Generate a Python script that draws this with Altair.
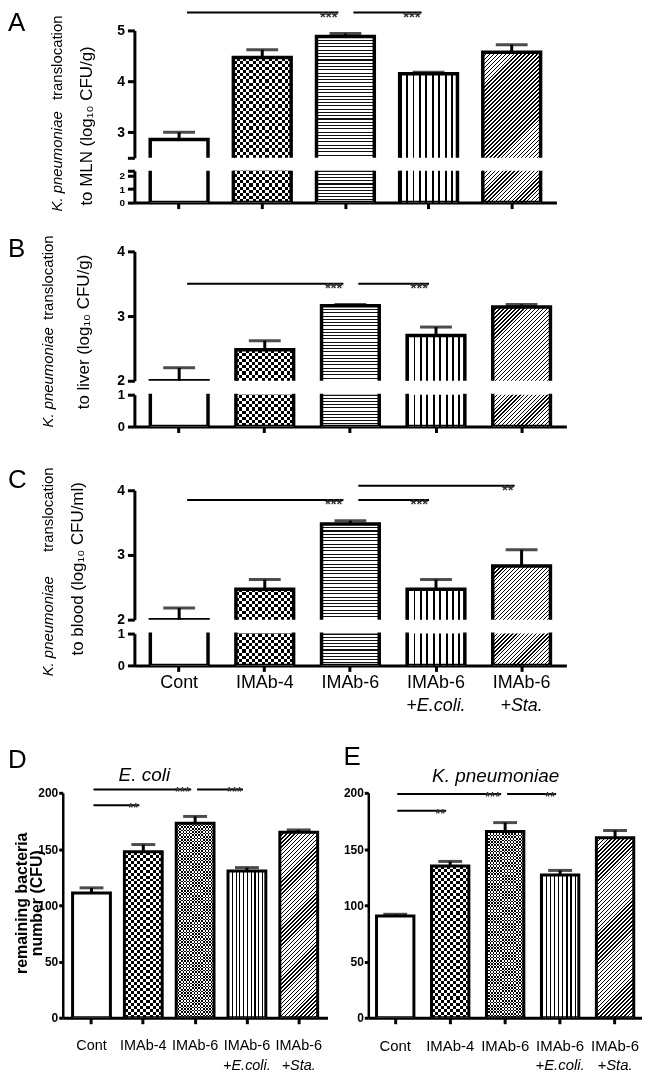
import math
import altair as alt
import pandas as pd

FONT = "Liberation Sans"

# ---------------- data ----------------
groups = ["Cont", "IMAb-4", "IMAb-6", "IMAb-6 +E.coli.", "IMAb-6 +Sta."]
label_line2 = ["", "", "", "+E.coli.", "+Sta."]

mln_mean = [2.86, 4.47, 4.88, 4.15, 4.57]
mln_upper = [3.00, 4.62, 4.94, 4.18, 4.72]
liver_mean = [2.00, 2.48, 3.16, 2.70, 3.14]
liver_upper = [2.20, 2.62, 3.18, 2.83, 3.18]
blood_mean = [2.00, 2.47, 3.48, 2.47, 2.83]
blood_upper = [2.18, 2.62, 3.53, 2.62, 3.08]
ecoli_mean = [111, 147.5, 173, 130.5, 165]
ecoli_upper = [115.5, 154, 179, 133.5, 167]
kp_mean = [90.5, 135, 165.5, 127, 160]
kp_upper = [92, 139, 173.5, 131, 166.5]

sig_mln = [["Cont", "IMAb-6", 5.35, "***"], ["IMAb-6", "IMAb-6 +E.coli.", 5.35, "***"]]
sig_liver = [["Cont", "IMAb-6", 3.5, "***"], ["IMAb-6", "IMAb-6 +E.coli.", 3.5, "***"]]
sig_blood = [["Cont", "IMAb-6", 3.85, "***"], ["IMAb-6", "IMAb-6 +E.coli.", 3.85, "***"],
             ["IMAb-6", "IMAb-6 +Sta.", 4.07, "**"]]
sig_ecoli = [["Cont", "IMAb-6", 203, "***"], ["IMAb-6", "IMAb-6 +E.coli.", 203, "***"],
             ["Cont", "IMAb-4", 189, "**"]]
sig_kp = [["Cont", "IMAb-6", 199, "***"], ["IMAb-6", "IMAb-6 +E.coli.", 199, "**"],
          ["Cont", "IMAb-4", 184, "**"]]

patterns_top = [("white", 0), ("checker", 6.5), ("hstripe", 3.3), ("vstripe", 6.3), ("diag", 2.8)]
patterns_bottom = [("white", 0), ("checker", 6.0), ("checker", 3.2), ("vstripe", 4.0), ("diag", 2.8)]

ONE = pd.DataFrame({"k": [0]})


# ---------------- helpers ----------------
def gstop(c, o):
    return alt.GradientStop(color=c, offset=round(min(max(o, 0.0), 1.0), 5))


def stripe_gradient(n, duty, on, off, x2, y2):
    n = max(int(round(n)), 1)
    stops = []
    for i in range(n):
        a, b, c = i / n, (i + duty) / n, (i + 1) / n
        stops += [gstop(on, a), gstop(on, b), gstop(off, b), gstop(off, c)]
    return alt.LinearGradient(gradient="linear", stops=stops, x1=0, y1=0, x2=x2, y2=y2)


def fills(kind, w, h, period):
    """Return a list of (fill, blend) pairs that draw the bar pattern."""
    if kind == "white":
        return [("white", None)]
    if kind == "checker":
        return [(stripe_gradient(h / period, 0.5, "black", "white", 0, 1), None),
                (stripe_gradient(w / period, 0.5, "white", "black", 1, 0), "difference")]
    if kind == "hstripe":
        return [(stripe_gradient(h / period, 0.32, "#111", "white", 0, 1), None)]
    if kind == "vstripe":
        return [(stripe_gradient(w / period, 0.3, "black", "white", 1, 0), None)]
    r = h / w
    c = (1 + r) / (1 + r * r)
    n = (w + h) / (math.sqrt(2) * period)
    return [(stripe_gradient(n, 0.35, "black", "white", c, c * r), None)]


def txt(text, x, y, size, align="center", baseline="alphabetic", angle=0,
        style="normal", weight="normal", color="black"):
    kw = dict(text=text, fontSize=size, align=align, baseline=baseline, font=FONT,
              fontStyle=style, fontWeight=weight, color=color)
    if angle:
        kw["angle"] = angle
    return alt.Chart(ONE).mark_text(**kw).encode(x=alt.value(x), y=alt.value(y))


def panel(mean, upper, *, width, xr, pi, po, dom, ch, pad, yvals, yhide=None,
          ylabel_size=14, ytick=7, ylabpad=3, ydomw=3, xaxis_mode="none",
          xlabel_size=18, xlabpad=2, xtick=6, kinds=patterns_top, err=False, cap=32,
          sig=None, sig_off=(8, -7), sig_w=2, star_size=15, star_dy=9,
          line2_y=None, texts=(), stroke_w=3.5):
    n = len(groups)
    step = (xr[1] - xr[0]) / (n - pi + 2 * po)
    bw = step * (1 - pi)
    ppu = ch / (dom[1] - dom[0])
    df = pd.DataFrame({"group": groups, "mean": mean, "upper": upper, "sub": label_line2})
    xs = alt.Scale(domain=groups, range=list(xr), paddingInner=pi, paddingOuter=po)
    ys = alt.Scale(domain=list(dom), range=[pad + ch, pad], nice=False, zero=False)
    hide = yhide if yhide is not None else -999
    yaxis = alt.Axis(values=yvals, offset=-xr[0], title="", labelFontSize=ylabel_size,
                     labelExpr=f"datum.value == {hide} ? '' : format(datum.value, '.0f')",
                     labelOverlap=False, labelFontWeight="bold", labelFont=FONT,
                     tickSize=ytick, tickWidth=3, domainWidth=ydomw, labelPadding=ylabpad,
                     grid=False, domainColor="black", tickColor="black", labelColor="black")
    if xaxis_mode == "none":
        xaxis = None
    else:
        xax = dict(title="", tickSize=xtick, tickWidth=3, domainWidth=3, domainColor="black",
                   tickColor="black", grid=False)
        if xaxis_mode == "labels":
            xax.update(labels=True, labelFontSize=xlabel_size, labelFont=FONT,
                       labelColor="black", labelPadding=xlabpad, labelAngle=0,
                       labelOverlap=False, labelExpr="split(datum.label, ' ')[0]")
        else:
            xax["labels"] = False
        xaxis = alt.Axis(**xax)

    def X(field):
        return alt.X(f"{field}:N", scale=xs, axis=xaxis)

    def Y(field):
        return alt.Y(f"{field}:Q", scale=ys, axis=yaxis)

    # pattern fills: drawn only over the visible part of each bar (no clipping)
    patt = alt.Chart(df).transform_calculate(top=f"min(datum.mean, {dom[1]})").encode(
        x=X("group"), y=Y("top"), y2=alt.Y2Datum(dom[0]))
    layers = []
    for g, v, (kind, per) in zip(groups, mean, kinds):
        h = (min(v, dom[1]) - dom[0]) * ppu
        if h <= 0.5:
            continue
        for f, blend in fills(kind, bw, h, per):
            mk = dict(fill=f)
            if blend:
                mk["blend"] = blend
            layers.append(patt.transform_filter(alt.datum.group == g).mark_bar(**mk))
    # outlines: full bars from zero, clipped so the broken ends stay open
    outl = alt.Chart(df).encode(x=X("group"), y=Y("mean"), y2=alt.Y2Datum(0))
    layers.append(outl.mark_bar(fill="white", fillOpacity=0, stroke="black",
                                strokeWidth=stroke_w, clip=True))
    if err:
        eb = alt.Chart(df).encode(x=X("group"))
        layers.append(eb.mark_rule(strokeWidth=3, color="black").encode(
            y=Y("mean"), y2=alt.Y2("upper:Q")))
        layers.append(eb.mark_tick(thickness=3, size=cap, color="black",
                                   orient="horizontal").encode(y=Y("upper")))
    if sig:
        sdf = pd.DataFrame(sig, columns=["g1", "g2", "y", "label"])
        layers.append(alt.Chart(sdf).mark_rule(
            strokeWidth=sig_w, color="black", xOffset=sig_off[0], x2Offset=sig_off[1]
        ).encode(x=X("g1"), x2=alt.X2("g2:N"), y=Y("y")))
        layers.append(alt.Chart(sdf).mark_text(
            align="right", baseline="alphabetic", dx=sig_off[1] - 1, dy=star_dy,
            fontSize=star_size, font=FONT, fontWeight="bold", color="#333"
        ).encode(x=X("g2"), y=Y("y"), text="label:N"))
    if line2_y is not None:
        ldf = df[df["sub"] != ""]
        layers.append(alt.Chart(ldf).mark_text(
            fontStyle="italic", fontSize=xlabel_size, font=FONT, baseline="alphabetic",
            color="black").encode(x=X("group"), y=alt.value(line2_y), text="sub:N"))
    layers += list(texts)
    return alt.layer(*layers).properties(width=width, height=pad + ch)


# ---------------- panels A, B, C ----------------
A_kw = dict(width=506, xr=(72, 496), pi=0.305, po=0.19)
BC_kw = dict(width=506, xr=(72, 506), pi=0.326, po=0.186)

A_up = panel(mln_mean, mln_upper, **A_kw, dom=(2.5, 5), ch=128, pad=0,
             yvals=[2.5, 3, 4, 5], yhide=2.5, err=True, sig=sig_mln,
             texts=[txt("A", -55, 1, 26, align="left"),
                    txt("K. pneumoniae", -6, 182, 15, align="left", baseline="middle",
                        angle=270, style="italic"),
                    txt("translocation", -6, -15, 15, align="right", baseline="middle", angle=270),
                    txt("to MLN (log₁₀ CFU/g)", 24, 96, 17, baseline="middle", angle=270)])
A_lo = panel(mln_mean, mln_upper, **A_kw, dom=(0, 2.36), ch=32, pad=0,
             yvals=[0, 1, 2, 2.36], yhide=2.36, ylabel_size=10, xaxis_mode="plain")

B_up = panel(liver_mean, liver_upper, **BC_kw, dom=(2, 4), ch=130, pad=36,
             yvals=[2, 3, 4], err=True, sig=sig_liver,
             texts=[txt("B", -55, 42, 26, align="left"),
                    txt("K. pneumoniae", -15, 213, 15, align="left", baseline="middle",
                        angle=270, style="italic"),
                    txt("translocation", -15, 20, 15, align="right", baseline="middle", angle=270),
                    txt("to liver (log₁₀ CFU/g)", 21, 117, 17, baseline="middle", angle=270)])
B_lo = panel(liver_mean, liver_upper, **BC_kw, dom=(0, 1), ch=32, pad=1,
             yvals=[0, 1], ylabel_size=13, xaxis_mode="plain")

C_up = panel(blood_mean, blood_upper, **BC_kw, dom=(2, 4), ch=130, pad=51,
             yvals=[2, 3, 4], err=True, sig=sig_blood,
             texts=[txt("C", -55, 49, 26, align="left"),
                    txt("K. pneumoniae", -15, 238, 15, align="left", baseline="middle",
                        angle=270, style="italic"),
                    txt("translocation", -15, 28, 15, align="right", baseline="middle", angle=270),
                    txt("to blood (log₁₀ CFU/ml)", 15, 130, 17, baseline="middle", angle=270)])
C_lo = panel(blood_mean, blood_upper, **BC_kw, dom=(0, 1), ch=32, pad=1,
             yvals=[0, 1], ylabel_size=13, xaxis_mode="labels", xlabel_size=18,
             xlabpad=2, line2_y=79)

# ---------------- panels D, E ----------------
DE_kw = dict(dom=(0, 200), ch=226, pad=115, yvals=[0, 50, 100, 150, 200], ylabel_size=12,
             ytick=4, ylabpad=1, ydomw=2.5, xaxis_mode="labels",
             xlabpad=15, kinds=patterns_bottom, err=True, cap=24, sig_off=(2, -4),
             star_size=13, star_dy=7, line2_y=394, stroke_w=3)

D = panel(ecoli_mean, ecoli_upper, width=266, xr=(0, 266), pi=0.27, po=0.19,
          sig=sig_ecoli, xlabel_size=14.5, **DE_kw,
          texts=[txt("D", -55, 90, 26, align="left"),
                 txt("E. coli", 82, 103, 19, style="italic"),
                 txt("remaining bacteria", -41, 226, 16, baseline="middle", angle=270,
                     weight="bold"),
                 txt("number (CFU)", -26, 226, 16, baseline="middle", angle=270,
                     weight="bold")])
E = panel(kp_mean, kp_upper, width=275, xr=(0, 275), pi=0.32, po=0.15,
          sig=sig_kp, xlabel_size=15, **DE_kw,
          texts=[txt("E", -25, 87, 26, align="left"),
                 txt("K. pneumoniae", 128, 104, 19, style="italic")])

DE = alt.hconcat(D, E, spacing=41, bounds="flush")

chart = alt.vconcat(A_up, A_lo, B_up, B_lo, C_up, C_lo, DE, spacing=13, bounds="flush") \
    .properties(padding={"top": -1, "left": 0, "right": 0, "bottom": 0}) \
    .configure_view(strokeWidth=0)

chart.save("out.html", embed_options={"renderer": "svg", "actions": False})
